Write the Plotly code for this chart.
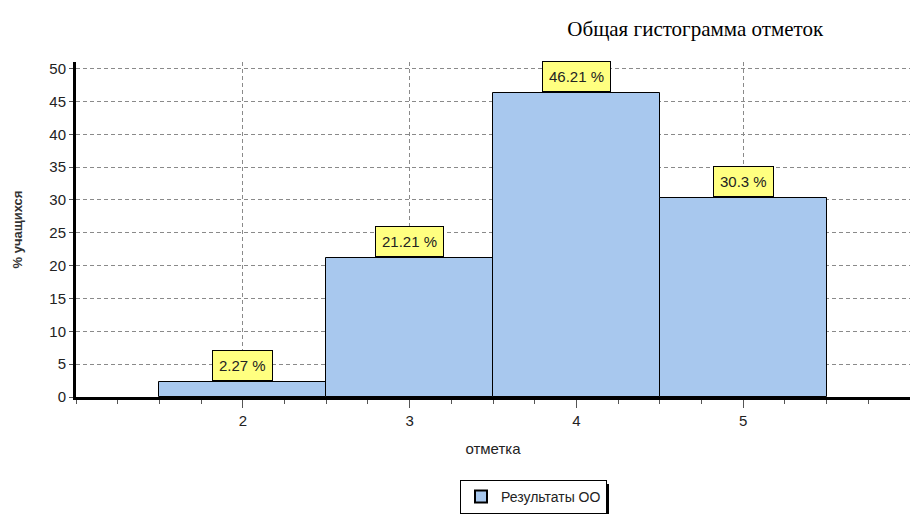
import plotly.graph_objects as go

categories = [2, 3, 4, 5]
values = [2.27, 21.21, 46.21, 30.3]
labels = ["2.27 %", "21.21 %", "46.21 %", "30.3 %"]
y_ticks = [0, 5, 10, 15, 20, 25, 30, 35, 40, 45, 50]

FONT = "Liberation Sans Narrow, Arial Narrow, Liberation Sans, Arial"

fig = go.Figure()
fig.add_trace(go.Bar(
    x=categories, y=values, width=1.0,
    marker=dict(color="#A8C8EE", line=dict(color="black", width=1)),
    name="Результаты ОО",
))

for c, v, t in zip(categories, values, labels):
    fig.add_annotation(
        x=c, y=v, text=t, showarrow=False, yanchor="bottom", yshift=1,
        bgcolor="#FFFF80", bordercolor="black", borderwidth=1, borderpad=6,
        font=dict(family=FONT, size=15, color="#222"),
    )

# legend shadow (paper coordinates)
fig.add_shape(type="rect", xref="paper", yref="paper",
              x0=(463 - 76) / 834, x1=(609 - 76) / 834,
              y0=(397 - 514) / 335, y1=(397 - 484) / 335,
              fillcolor="black", line=dict(width=0), layer="below")

fig.update_layout(
    width=910, height=514,
    margin=dict(l=76, r=0, t=62, b=117, autoexpand=False),
    paper_bgcolor="white", plot_bgcolor="white",
    bargap=0,
    title=dict(text="Общая гистограмма отметок", x=0.764, xanchor="center",
               y=0.945, yanchor="middle", xref="container", yref="container",
               font=dict(family="Liberation Serif, Times New Roman, serif", size=21, color="black")),
    showlegend=True,
    legend=dict(x=(460 - 76) / 834, xanchor="left", y=(397 - 480) / 335, yanchor="top",
                bordercolor="black", borderwidth=1, bgcolor="white",
                font=dict(family=FONT, size=14, color="#222"),
                itemsizing="constant"),
    xaxis=dict(
        range=[1, 6], tickmode="array", tickvals=categories,
        ticktext=[str(c) for c in categories],
        showgrid=True, gridcolor="#8a8a8a", griddash="4px,3px", gridwidth=1,
        ticks="outside", ticklen=8, tickcolor="#555",
        minor=dict(tickmode="linear", tick0=1, dtick=0.25, ticks="outside", ticklen=4, tickcolor="#555", showgrid=False),
        showline=True, linecolor="black", linewidth=3,
        tickfont=dict(family=FONT, size=15, color="#222"),
        title=dict(text="отметка", font=dict(family=FONT, size=15, color="#222"), standoff=16),
        zeroline=False,
    ),
    yaxis=dict(
        range=[0, 51], tickmode="array", tickvals=y_ticks,
        showgrid=True, gridcolor="#8a8a8a", griddash="4px,3px", gridwidth=1,
        ticks="outside", ticklen=4, tickcolor="#555",
        showline=True, linecolor="black", linewidth=3,
        tickfont=dict(family=FONT, size=15, color="#222"),
        title=dict(text="<b>% учащихся</b>", font=dict(family=FONT, size=13, color="#333"), standoff=24),
        zeroline=False,
    ),
)

fig.write_html("out.html", config={"displayModeBar": False},
               post_script="document.body.style.margin='0';document.body.style.overflow='hidden';")
